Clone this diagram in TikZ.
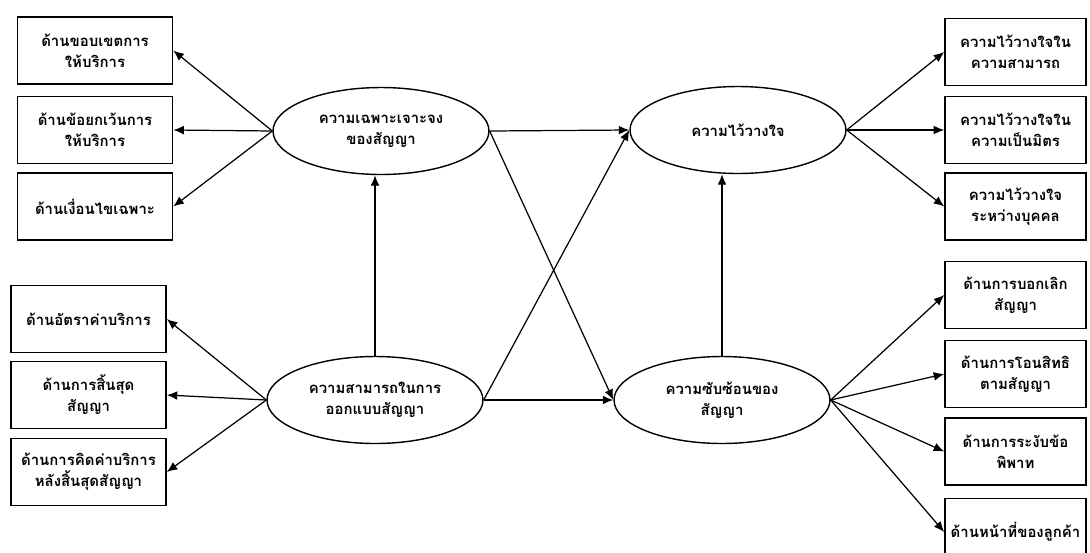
\documentclass[tikz,border=0pt]{standalone}
\usepackage{fontspec}
\newfontfamily\thaifont[Script=Thai]{Loma}
\usetikzlibrary{arrows.meta,shapes.geometric}

\begin{document}
\begin{tikzpicture}[x=0.02cm, y=-0.02cm,
    font=\thaifont\bfseries\fontsize{8.5}{12}\selectfont,
    factor/.style={rectangle, draw, line width=0.9pt, minimum width=3.1cm,
          minimum height=1.34cm, align=center, inner sep=1pt},
    latent/.style={ellipse, draw, line width=0.8pt, minimum width=4.32cm,
          minimum height=1.74cm, align=center, inner sep=0pt},
    link/.style={-{Latex[length=6pt,width=5pt]}, line width=0.7pt}]
    \useasboundingbox (0,0) rectangle (1090,552);

    % latent variables
    \node[latent] (spec) at (381,131) {ความเฉพาะเจาะจง\\ของสัญญา};
    \node[latent] (design) at (375,400) {ความสามารถในการ\\ออกแบบสัญญา};
    \node[latent] (trust) at (738,130) {ความไว้วางใจ};
    \node[latent] (cplx) at (722,400) {ความซับซ้อนของ\\สัญญา};

    % indicators — left top
    \node[factor] (scope) at (95,50.5) {ด้านขอบเขตการ\\ให้บริการ};
    \node[factor] (exempt) at (95,130) {ด้านข้อยกเว้นการ\\ให้บริการ};
    \node[factor] (cond) at (95,206.5) {ด้านเงื่อนไขเฉพาะ};

    % indicators — left bottom
    \node[factor] (rate) at (88.5,319) {ด้านอัตราค่าบริการ};
    \node[factor] (term) at (88.5,395) {ด้านการสิ้นสุด\\สัญญา};
    \node[factor] (fee) at (88.5,472) {ด้านการคิดค่าบริการ\\หลังสิ้นสุดสัญญา};

    % indicators — right top
    \node[factor, minimum width=2.82cm] (tcap) at (1015.5,52) {ความไว้วางใจใน\\ความสามารถ};
    \node[factor, minimum width=2.82cm] (tfriend) at (1015.5,130) {ความไว้วางใจใน\\ความเป็นมิตร};
    \node[factor, minimum width=2.82cm] (tperson) at (1015.5,206.5) {ความไว้วางใจ\\ระหว่างบุคคล};

    % indicators — right bottom
    \node[factor, minimum width=2.82cm] (cancel) at (1015.5,295) {ด้านการบอกเลิก\\สัญญา};
    \node[factor, minimum width=2.82cm] (transfer) at (1015.5,374) {ด้านการโอนสิทธิ\\ตามสัญญา};
    \node[factor, minimum width=2.82cm] (dispute) at (1015.5,451.5) {ด้านการระงับข้อ\\พิพาท};
    \node[factor, minimum width=2.82cm] (duty) at (1015.5,532) {ด้านหน้าที่ของลูกค้า};

    % arrows to indicators
    \foreach \t in {scope,exempt,cond}
      \draw[link] (spec.west) -- (\t.east);
    \foreach \t in {rate,term,fee}
      \draw[link] (design.west) -- (\t.east);
    \foreach \t in {tcap,tfriend,tperson}
      \draw[link] (trust.east) -- (\t.west);
    \foreach \t in {cancel,transfer,dispute,duty}
      \draw[link] (cplx.east) -- (\t.west);

    % structural paths
    \draw[link] (design.north) -- (design.north |- spec.south);
    \draw[link] (cplx.north) -- (cplx.north |- trust.south);
    \draw[link] (spec.east) -- (trust.west);
    \draw[link] (spec.east) -- (cplx.west);
    \draw[link] (design.east) -- (trust.west);
    \draw[link] (design.east) -- (cplx.west);
\end{tikzpicture}
\end{document}
